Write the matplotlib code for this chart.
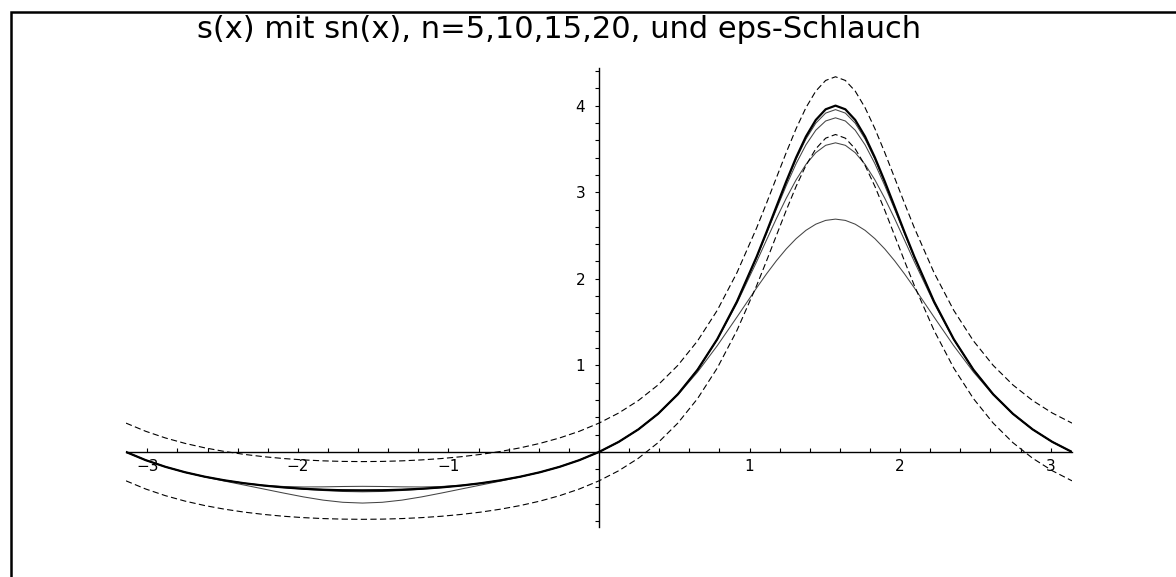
import numpy as np
import matplotlib
matplotlib.use("Agg")
import matplotlib.pyplot as plt
from matplotlib.patches import Rectangle
from matplotlib.ticker import FixedLocator

plt.rcParams['font.family'] = ['DejaVu Sans']
plt.rcParams['lines.scale_dashes'] = False

# ---- data (x in degrees) ----
x_neg = [-180, -172.5, -165, -157.5, -150, -142.5, -135, -127.5, -120, -112.5, -105, -97.5,
         -90, -82.5, -75, -67.5, -60, -52.5, -45, -37.5, -30, -22.5, -15, -7.5]
x_pos = [0, 7.5, 15, 22.5, 30, 37.5, 45, 52.5, 60,
         63.75, 67.5, 71.25, 75, 78.75, 82.5, 86.25, 90, 93.75, 97.5, 101.25, 105, 108.75, 112.5, 116.25,
         120, 127.5, 135, 142.5, 150, 157.5, 165, 172.5, 180]
x_deg = x_neg + x_pos

s_vals = [0, -0.09455, -0.17154, -0.23439, -0.28571, -0.32751, -0.36130, -0.38826, -0.40927, -0.42499, -0.43590, -0.44232,
          -0.44444, -0.44232, -0.43590, -0.42499, -0.40927, -0.38826, -0.36130, -0.32751, -0.28571, -0.23439, -0.17154, -0.09455,
          0, 0.11660, 0.26112, 0.44123, 0.66667, 0.94935, 1.30248, 1.73735, 2.25542,
          2.53980, 2.83295, 3.12446, 3.40026, 3.64313, 3.83456, 3.95754, 4.00000, 3.95754, 3.83456, 3.64313, 3.40026, 3.12446, 2.83295, 2.53980,
          2.25542, 1.73735, 1.30248, 0.94935, 0.66667, 0.44123, 0.26112, 0.11660, 0]

s5_vals = [0, -0.09455, -0.17160, -0.23502, -0.28864, -0.33648, -0.38223, -0.42825, -0.47461, -0.51873, -0.55601, -0.58117,
           -0.59008, -0.58117, -0.55601, -0.51873, -0.47461, -0.42825, -0.38223, -0.33648, -0.28864, -0.23502, -0.17160, -0.09455,
           0, 0.11660, 0.26102, 0.44004, 0.65984, 0.92334, 1.22703, 1.55843, 1.89540,
           2.05685, 2.20811, 2.34496, 2.46338, 2.55972, 2.63089, 2.67456, 2.68928, 2.67456, 2.63089, 2.55972, 2.46338, 2.34496, 2.20811, 2.05685,
           1.89540, 1.55843, 1.22703, 0.92334, 0.65984, 0.44004, 0.26102, 0.11660, 0]

s10_vals = [0, -0.09455, -0.17154, -0.23439, -0.28568, -0.32726, -0.36009, -0.38414, -0.39885, -0.40432, -0.40281, -0.39874,
            -0.39672, -0.39874, -0.40281, -0.40432, -0.39885, -0.38414, -0.36009, -0.32726, -0.28568, -0.23439, -0.17154, -0.09455,
            0, 0.11660, 0.26112, 0.44123, 0.66660, 0.94864, 1.29811, 1.71892, 2.19795,
            2.44797, 2.69514, 2.92999, 3.14212, 3.32095, 3.45673, 3.54161, 3.57050, 3.54161, 3.45673, 3.32095, 3.14212, 2.92999, 2.69514, 2.44797,
            2.19795, 1.71892, 1.29811, 0.94864, 0.66660, 0.44123, 0.26112, 0.11660, 0]

s15_vals = [0, -0.09455, -0.17154, -0.23439, -0.28571, -0.32752, -0.36137, -0.38869, -0.41094, -0.42955, -0.44502, -0.45601,
            -0.46008, -0.45601, -0.44502, -0.42955, -0.41094, -0.38869, -0.36137, -0.32752, -0.28571, -0.23439, -0.17154, -0.09455,
            0, 0.11660, 0.26112, 0.44123, 0.66667, 0.94933, 1.30223, 1.73545, 2.24625,
            2.52234, 2.80255, 3.07594, 3.32913, 3.54732, 3.71596, 3.82270, 3.85926, 3.82270, 3.71596, 3.54732, 3.32913, 3.07594, 2.80255, 2.52234,
            2.24625, 1.73545, 1.30223, 0.94933, 0.66667, 0.44123, 0.26112, 0.11660, 0]

s20_vals = [0, -0.09455, -0.17154, -0.23439, -0.28571, -0.32751, -0.36130, -0.38822, -0.40901, -0.42399, -0.43339, -0.43803,
            -0.43932, -0.43803, -0.43339, -0.42399, -0.40901, -0.38822, -0.36130, -0.32751, -0.28571, -0.23439, -0.17154, -0.09455,
            0, 0.11660, 0.26112, 0.44123, 0.66667, 0.94935, 1.30247, 1.73715, 2.25396,
            2.53648, 2.82625, 3.11236, 3.38066, 3.61465, 3.79733, 3.91383, 3.95388, 3.91383, 3.79733, 3.61465, 3.38066, 3.11236, 2.82625, 2.53648,
            2.25396, 1.73715, 1.30247, 0.94935, 0.66667, 0.44123, 0.26112, 0.11660, 0]

eps = 1 / 3

x_tick_labels = ['\u22123', '\u22122', '\u22121', '1', '2', '3']
x_tick_values = [-3, -2, -1, 1, 2, 3]
y_tick_labels = ['1', '2', '3', '4']
y_tick_values = [1, 2, 3, 4]
title = 's(x) mit sn(x), n=5,10,15,20, und eps-Schlauch'

# ---- figure ----
W, H = 1176, 577
fig = plt.figure(figsize=(W / 100, H / 100), dpi=100)
ax = fig.add_axes([126 / W, 1 - 527.3 / H, 946 / W, (527.3 - 68.4) / H])

x = np.radians(x_deg)
s = np.array(s_vals)

thin = dict(color='#444444', lw=0.75, solid_joinstyle='round')
for vals in (s5_vals, s10_vals, s15_vals, s20_vals):
    ax.plot(x, vals, **thin)
ax.plot(x, s + eps, color='black', lw=0.8, ls=(0, (4.5, 2.4)))
ax.plot(x, s - eps, color='black', lw=0.8, ls=(0, (4.5, 2.4)))
ax.plot(x, s, color='black', lw=1.6, solid_joinstyle='round')

ax.set_xlim(-np.pi, np.pi)
ax.set_ylim(-0.87, 4.43)

for side in ('top', 'right'):
    ax.spines[side].set_visible(False)
ax.spines['bottom'].set_position(('data', 0))
ax.spines['left'].set_position(('data', 0))
for side in ('bottom', 'left'):
    ax.spines[side].set_linewidth(1.0)
ax.patch.set_visible(False)

ax.xaxis.set_major_locator(FixedLocator(x_tick_values))
ax.set_xticklabels(x_tick_labels)
ax.xaxis.set_minor_locator(FixedLocator([v / 5 for v in range(-15, 16)]))
ax.yaxis.set_major_locator(FixedLocator(y_tick_values))
ax.set_yticklabels(y_tick_labels)
ax.yaxis.set_minor_locator(FixedLocator([v / 5 for v in range(-4, 23)]))

ax.tick_params(axis='x', which='both', direction='in', length=3, width=0.8, labelsize=11, pad=5)
ax.tick_params(axis='y', which='both', direction='out', length=3, width=0.8, labelsize=11, pad=7)

fig.text(559 / W, 1 - 38 / H, title, ha='center', va='baseline', fontsize=22)

fig.add_artist(Rectangle((11 / W, -0.1), 1.2, 1.1 - 11.5 / H, transform=fig.transFigure,
                         fill=False, edgecolor='black', lw=1.8, clip_on=False))

fig.savefig('out.png', dpi=100)
